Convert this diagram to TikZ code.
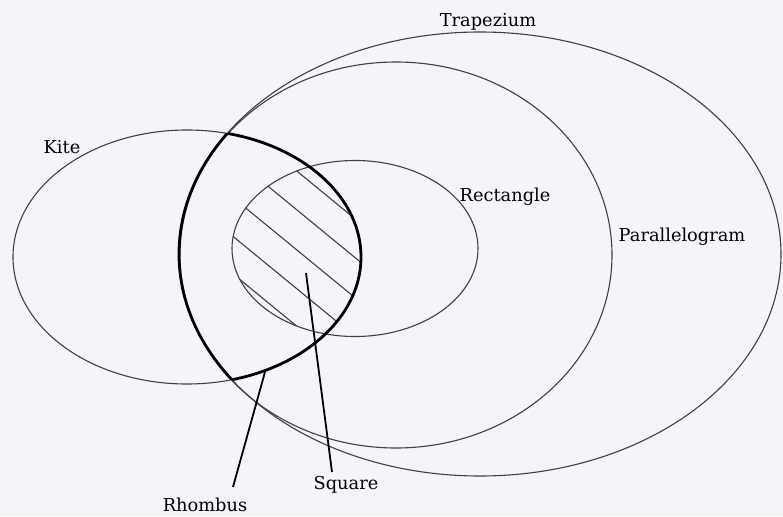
\documentclass[tikz,border=0pt]{standalone}
\usepackage{fontspec}
\setmainfont{DejaVu Serif}
\definecolor{bgcol}{RGB}{244,244,250}
\definecolor{linegray}{RGB}{60,64,72}
\begin{document}
\begin{tikzpicture}[x=1pt,y=-1pt,
  thinline/.style={draw=linegray, line width=1.1pt},
  thickline/.style={draw=black, line width=2.8pt},
  hatchline/.style={draw=linegray, line width=1.1pt},
  lbl/.style={font=\fontsize{17.8}{21}\selectfont, anchor=base, inner sep=0pt, text=black},
  leader/.style={draw=black, line width=1.8pt}]
\fill[bgcol] (0,0) rectangle (783,516);
\useasboundingbox (0,0) rectangle (783,516);
% set ellipses
\def\trapez{(480,254) ellipse [x radius=301pt, y radius=222pt]}
\def\parall{(396,255) ellipse [x radius=216pt, y radius=193pt]}
\def\kiteell{(187,257) ellipse [x radius=174pt, y radius=127pt]}
\def\rectell{(355,248.5) ellipse [x radius=123pt, y radius=88pt]}
\draw[thinline] \trapez;
\draw[thinline] \parall;
\draw[thinline] \kiteell;
\draw[thinline] \rectell;
% hatching of the square region
\begin{scope}
  \clip \kiteell;
  \clip \rectell;
  \draw[hatchline] (200,91.6) -- (400,255.7);
  \draw[hatchline] (200,130.4) -- (400,294.5);
  \draw[hatchline] (200,170.5) -- (400,334.6);
  \draw[hatchline] (200,209.3) -- (400,373.4);
  \draw[hatchline] (200,246.8) -- (400,410.9);
\end{scope}
% thick rhombus boundary
\begin{scope}
  \clip \kiteell;
  \draw[thickline] \trapez;
\end{scope}
\begin{scope}
  \clip \trapez;
  \draw[thickline] \kiteell;
\end{scope}
% labels
\node[lbl] (trap) at (488,27) {Trapezium};
\node[lbl] (rect) at (505,201) {Rectangle};
\node[lbl] (para) at (682,241) {Parallelogram};
\node[lbl] (kite) at (62,153) {Kite};
\node[lbl] (square) at (346,489) {Square};
\node[lbl] (rhombus) at (205,511) {Rhombus};
% leaders
\coordinate (sqtip) at (306,273);
\coordinate (sqend) at (332,472);
\coordinate (rhtip) at (265,372);
\coordinate (rhend) at (233,487);
\draw[leader] (sqtip) -- (sqend);
\draw[leader] (rhtip) -- (rhend);
\end{tikzpicture}
\end{document}
